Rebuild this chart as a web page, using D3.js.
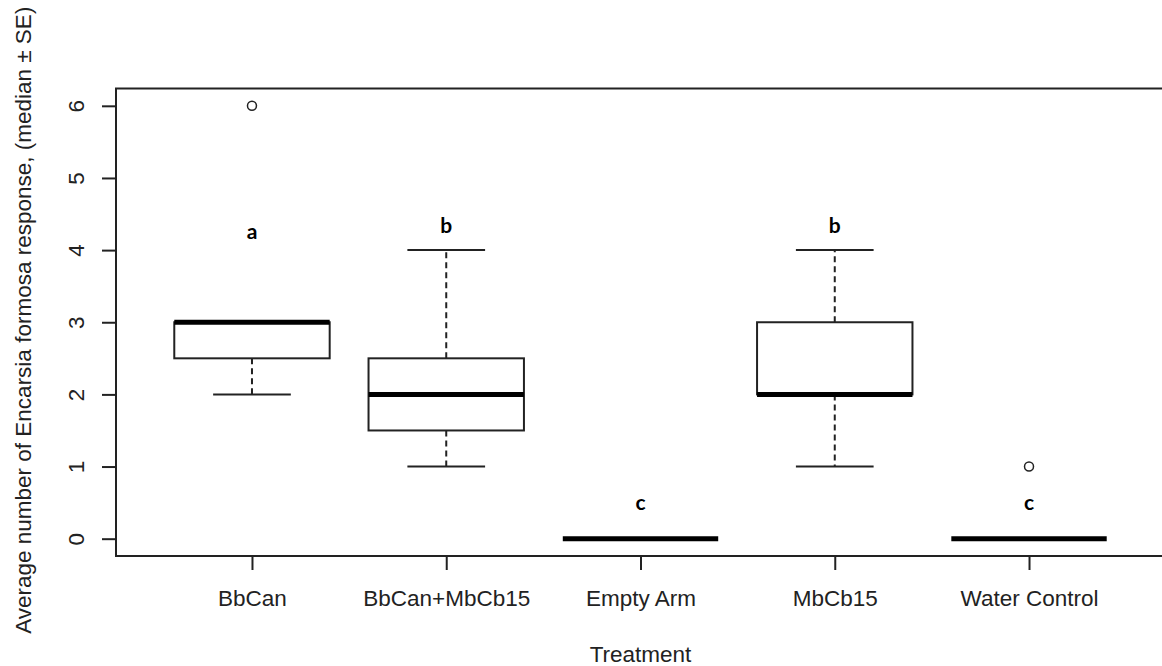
<!DOCTYPE html>
<html>
<head>
<meta charset="utf-8">
<script src="https://cdn.jsdelivr.net/npm/d3@7"></script>
<style>
  body { margin: 0; background: #fff; }
  svg { display: block; }
  .axis text { font-family: "Liberation Sans", Arial, sans-serif; font-size: 22.5px; fill: #222; }
  .axis line { stroke: #222; stroke-width: 2; }
  .title { font-family: "Liberation Sans", Arial, sans-serif; font-size: 22.5px; fill: #222; }
  .letter { font-family: Lato, "Open Sans", sans-serif; font-weight: bold; font-size: 21px; fill: #000; }
</style>
</head>
<body>
<div id="chart"></div>
<script>
;(function () {
    // values
    const categories = ["BbCan", "BbCan+MbCb15", "Empty Arm", "MbCb15", "Water Control"]
    const lowerWhisker = [2, 1, 0, 1, 0]
    const lowerQuartile = [2.5, 1.5, 0, 2, 0]
    const medians = [3, 2, 0, 2, 0]
    const upperQuartile = [3, 2.5, 0, 3, 0]
    const upperWhisker = [3, 4, 0, 4, 0]
    const outliers = [[6], [], [], [], [1]]
    const groupLetters = ["a", "b", "c", "b", "c"]
    const letterLevel = [4.15, 4.24, 0.4, 4.24, 0.4]
    const yTicks = [0, 1, 2, 3, 4, 5, 6]

    const width = 1162
    const height = 666

    const plot = { left: 116, right: 1165, top: 88.5, bottom: 556 }

    const svg = d3.select("#chart")
        .append("svg")
        .attr("width", width)
        .attr("height", height)

    // R style: 4% padding around 0.5..5.5 and 0..6
    const xPositionScale = d3.scaleLinear().domain([0.3, 5.7]).range([plot.left, plot.right])
    const yPositionScale = d3.scaleLinear().domain([-0.24, 6.24]).range([plot.bottom, plot.top])

    const boxes = categories.map((name, i) => ({
        name: name,
        pos: i + 1,
        low: lowerWhisker[i],
        q1: lowerQuartile[i],
        med: medians[i],
        q3: upperQuartile[i],
        high: upperWhisker[i],
        out: outliers[i],
        letter: groupLetters[i],
        letterAt: letterLevel[i]
    }))

    const boxHalf = 0.4
    const stapleHalf = 0.2

    const g = svg.selectAll(".box")
        .data(boxes)
        .enter()
        .append("g")
        .attr("class", "box")

    // dashed whiskers
    g.append("line")
        .attr("x1", d => xPositionScale(d.pos))
        .attr("x2", d => xPositionScale(d.pos))
        .attr("y1", d => yPositionScale(d.q3))
        .attr("y2", d => yPositionScale(d.high))
        .attr("stroke", "#222")
        .attr("stroke-width", 2)
        .attr("stroke-dasharray", "6,4")
    g.append("line")
        .attr("x1", d => xPositionScale(d.pos))
        .attr("x2", d => xPositionScale(d.pos))
        .attr("y1", d => yPositionScale(d.q1))
        .attr("y2", d => yPositionScale(d.low))
        .attr("stroke", "#222")
        .attr("stroke-width", 2)
        .attr("stroke-dasharray", "6,4")

    // staples
    ;["low", "high"].forEach(function (key) {
        g.append("line")
            .attr("x1", d => xPositionScale(d.pos - stapleHalf))
            .attr("x2", d => xPositionScale(d.pos + stapleHalf))
            .attr("y1", d => yPositionScale(d[key]))
            .attr("y2", d => yPositionScale(d[key]))
            .attr("stroke", "#222")
            .attr("stroke-width", 2)
    })

    // boxes
    g.append("rect")
        .attr("x", d => xPositionScale(d.pos - boxHalf))
        .attr("width", d => xPositionScale(d.pos + boxHalf) - xPositionScale(d.pos - boxHalf))
        .attr("y", d => yPositionScale(d.q3))
        .attr("height", d => yPositionScale(d.q1) - yPositionScale(d.q3))
        .attr("fill", "#fff")
        .attr("stroke", "#222")
        .attr("stroke-width", 2)

    // medians
    g.append("line")
        .attr("x1", d => xPositionScale(d.pos - boxHalf))
        .attr("x2", d => xPositionScale(d.pos + boxHalf))
        .attr("y1", d => yPositionScale(d.med))
        .attr("y2", d => yPositionScale(d.med))
        .attr("stroke", "#000")
        .attr("stroke-width", 5)

    // outliers
    g.selectAll("circle")
        .data(d => d.out.map(v => ({ pos: d.pos, v: v })))
        .enter()
        .append("circle")
        .attr("cx", d => xPositionScale(d.pos))
        .attr("cy", d => yPositionScale(d.v))
        .attr("r", 4.5)
        .attr("fill", "none")
        .attr("stroke", "#222")
        .attr("stroke-width", 1.5)

    // significance letters
    g.append("text")
        .attr("class", "letter")
        .attr("x", d => xPositionScale(d.pos))
        .attr("y", d => yPositionScale(d.letterAt))
        .attr("text-anchor", "middle")
        .text(d => d.letter)

    // frame
    svg.append("rect")
        .attr("x", plot.left)
        .attr("y", plot.top)
        .attr("width", plot.right - plot.left)
        .attr("height", plot.bottom - plot.top)
        .attr("fill", "none")
        .attr("stroke", "#222")
        .attr("stroke-width", 2)

    // axes
    const xAxisGenerator = d3.axisBottom(xPositionScale)
        .tickValues(d3.range(1, categories.length + 1))
        .tickFormat(d => categories[d - 1])
        .tickSize(14)
        .tickSizeOuter(0)
    const xAxis = svg.append("g")
        .attr("class", "axis x-axis")
        .attr("transform", `translate(0,${plot.bottom})`)
        .call(xAxisGenerator)
    xAxis.select(".domain").remove()
    xAxis.selectAll("text").attr("y", 50).attr("dy", 0)

    const yAxisGenerator = d3.axisLeft(yPositionScale)
        .tickValues(yTicks)
        .tickFormat(d3.format("d"))
        .tickSize(14)
        .tickSizeOuter(0)
    const yAxis = svg.append("g")
        .attr("class", "axis y-axis")
        .attr("transform", `translate(${plot.left},0)`)
        .call(yAxisGenerator)
    yAxis.select(".domain").remove()
    yAxis.selectAll("text")
        .attr("transform", "rotate(-90)")
        .attr("x", 0)
        .attr("y", -32)
        .attr("dy", 0)
        .attr("text-anchor", "middle")

    // axis titles
    svg.append("text")
        .attr("class", "title")
        .attr("x", (plot.left + plot.right) / 2)
        .attr("y", 662)
        .attr("text-anchor", "middle")
        .text("Treatment")

    svg.append("text")
        .attr("class", "title")
        .attr("transform", `translate(31,${(plot.top + plot.bottom) / 2 - 2}) rotate(-90)`)
        .attr("text-anchor", "middle")
        .text("Average number of Encarsia formosa response, (median ± SE)")
})()
</script>
</body>
</html>
